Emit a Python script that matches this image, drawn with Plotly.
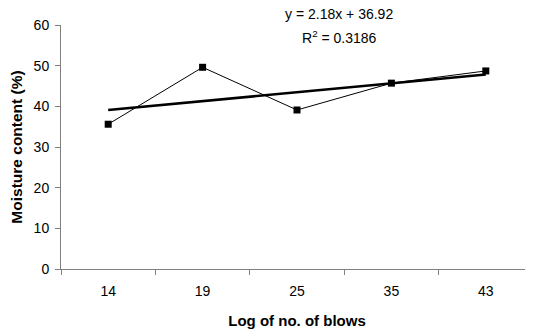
import plotly.graph_objects as go

categories = ["14", "19", "25", "35", "43"]
moisture = [35.6, 49.6, 39.1, 45.7, 48.7]
slope = 2.18
intercept = 36.92
r_squared = 0.3186

trend = [slope * (i + 1) + intercept for i in range(len(categories))]

FONT = "Liberation Sans, Arial, sans-serif"

# page body has an 8px default margin, so the figure is sized to fit the window
W, H = 525, 323
L, T, B = 53, 17, 62
PW, PH = W - L, H - T - B

fig = go.Figure()
fig.add_trace(go.Scatter(
    x=categories, y=moisture, mode="lines+markers",
    line=dict(color="black", width=1),
    marker=dict(symbol="square", size=7, color="black"),
    showlegend=False,
))
fig.add_trace(go.Scatter(
    x=categories, y=trend, mode="lines",
    line=dict(color="black", width=2.6),
    showlegend=False,
))

fig.update_layout(
    width=W, height=H,
    margin=dict(l=L, r=0, t=T, b=B, pad=0),
    paper_bgcolor="white", plot_bgcolor="white",
    font=dict(family=FONT, size=14, color="black"),
)
fig.add_annotation(
    text=f"y = {slope}x + {intercept}",
    x=(331 - L) / PW, y=1 + (T - 6) / PH, xref="paper", yref="paper",
    showarrow=False, font=dict(family=FONT, size=14, color="black"),
    xanchor="center", yanchor="middle",
)
fig.add_annotation(
    text=f"R<sup>2</sup> = {r_squared}",
    x=(331 - L) / PW, y=1 - (29 - T) / PH, xref="paper", yref="paper",
    showarrow=False, font=dict(family=FONT, size=14, color="black"),
    xanchor="center", yanchor="middle",
)

fig.update_xaxes(
    type="category", range=[-0.5, 4.5],
    showline=True, linecolor="#808080", linewidth=1,
    ticks="outside", tickson="boundaries", ticklen=5, tickcolor="#808080",
    ticklabelstandoff=9,
    showgrid=False, zeroline=False,
    title=dict(text="<b>Log of no. of blows</b>", font=dict(size=15), standoff=17),
)
fig.update_yaxes(
    range=[0, 60], dtick=10,
    showline=True, linecolor="#808080", linewidth=1,
    ticks="outside", ticklen=5, tickcolor="#808080",
    ticklabelstandoff=3,
    showgrid=False, zeroline=False,
    title=dict(text="<b>Moisture content (%)</b>", font=dict(size=15.5), standoff=8),
)

fig.write_html("out.html")
